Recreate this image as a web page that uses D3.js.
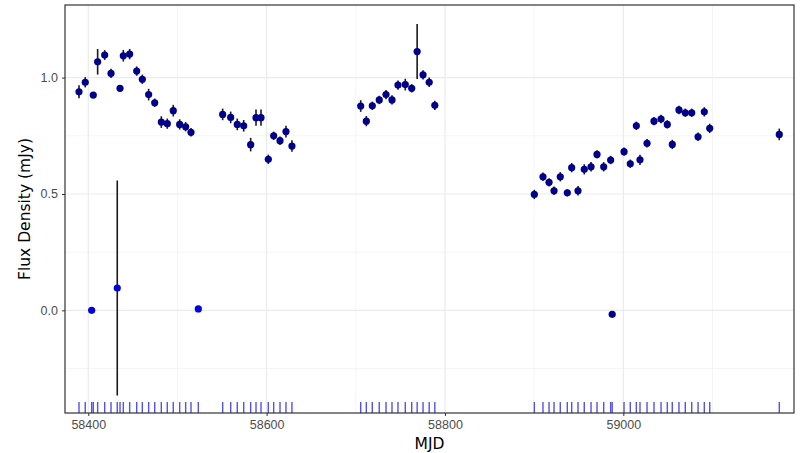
<!DOCTYPE html>
<html>
<head>
<meta charset="utf-8">
<script src="https://cdn.jsdelivr.net/npm/d3@7"></script>
<style>
  body { margin: 0; background: #fff; }
  svg { display: block; font-family: "DejaVu Sans", sans-serif; }
</style>
</head>
<body>
<svg></svg>
<script>
// detections
const mjd = [58389.6, 58396.6, 58405.6, 58410.5, 58418.4, 58425.5, 58435.6, 58439.3, 58446.4, 58454.3,
  58460.6, 58467.7, 58474.5, 58481.9, 58488.6, 58495.3, 58502.5, 58509.2, 58515.2,
  58550.7, 58559.7, 58567.1, 58574.3, 58582.1, 58588.1, 58593.7, 58601.9, 58607.9, 58615.0, 58621.7, 58628.4,
  58705.5, 58711.8, 58718.5, 58726.3, 58733.9, 58740.6, 58747.3, 58755.5, 58762.7, 58768.8, 58775.4, 58782.3, 58788.6,
  58900.2, 58909.9, 58916.7, 58922.3, 58929.3, 58937.2, 58942.1, 58949.2, 58956.2, 58963.8, 58970.5, 58978.0,
  58985.8, 59000.8, 59007.8, 59014.6, 59018.7, 59026.6, 59034.4, 59042.3, 59049.3, 59054.9, 59062.4, 59069.5,
  59076.7, 59083.8, 59090.8, 59096.9, 59174.9];
const flux = [0.939, 0.980, 0.925, 1.068, 1.097, 1.018, 0.954, 1.094, 1.101, 1.028,
  0.993, 0.927, 0.892, 0.809, 0.802, 0.858, 0.799, 0.789, 0.765,
  0.842, 0.829, 0.799, 0.793, 0.712, 0.828, 0.828, 0.649, 0.750, 0.729, 0.768, 0.706,
  0.878, 0.813, 0.879, 0.904, 0.927, 0.904, 0.968, 0.970, 0.954, 1.112, 1.012, 0.980, 0.881,
  0.498, 0.574, 0.550, 0.514, 0.574, 0.505, 0.613, 0.514, 0.606, 0.617, 0.670, 0.617,
  0.646, 0.682, 0.630, 0.793, 0.647, 0.718, 0.813, 0.822, 0.799, 0.713, 0.861, 0.849,
  0.849, 0.746, 0.853, 0.782, 0.756];
const fluxErr = [0.028, 0.022, 0.008, 0.055, 0.021, 0.020, 0.008, 0.025, 0.022, 0.020,
  0.020, 0.025, 0.018, 0.025, 0.022, 0.025, 0.022, 0.020, 0.018,
  0.025, 0.025, 0.025, 0.025, 0.029, 0.035, 0.035, 0.020, 0.018, 0.018, 0.025, 0.025,
  0.025, 0.022, 0.018, 0.018, 0.020, 0.020, 0.020, 0.025, 0.018, 0.118, 0.020, 0.020, 0.020,
  0.020, 0.018, 0.018, 0.018, 0.020, 0.015, 0.020, 0.020, 0.022, 0.020, 0.018, 0.020,
  0.018, 0.018, 0.018, 0.018, 0.022, 0.018, 0.018, 0.018, 0.018, 0.020, 0.018, 0.018,
  0.018, 0.018, 0.020, 0.020, 0.025];

// non-detections / outliers
const lowMjd = [58403.8, 58432.5, 58523.4, 58987.5];
const lowFlux = [0.000, 0.096, 0.006, -0.017];
const lowErr = [0.004, 0.462, 0.004, 0.004];
const lowColor = ['#0000e0', '#0000e0', '#0000e0', '#00008b'];

const xTicks = [58400, 58600, 58800, 59000];
const xMinor = [58500, 58700, 58900, 59100];
const yTicks = [0.0, 0.5, 1.0];
const yMinor = [-0.25, 0.25, 0.75];

const [svgWidth, svgHeight] = [802, 453];
const margin = { top: 5, right: 8, bottom: 40, left: 65 };
const w = svgWidth - margin.left - margin.right;
const h = svgHeight - margin.top - margin.bottom;

const svg = d3.select('svg')
  .attr('width', svgWidth)
  .attr('height', svgHeight);
const g = svg.append('g')
  .attr('transform', `translate(${margin.left}, ${margin.top})`);

const x = d3.scaleLinear().domain([58373.9, 59191.4]).range([0, w]);
const y = d3.scaleLinear().domain([-0.441, 1.312]).range([h, 0]);

// grid
g.selectAll('.vminor').data(xMinor).enter().append('line')
  .attr('x1', d => x(d)).attr('x2', d => x(d)).attr('y1', 0).attr('y2', h)
  .attr('stroke', '#f2f2f2').attr('stroke-width', 0.8);
g.selectAll('.hminor').data(yMinor).enter().append('line')
  .attr('y1', d => y(d)).attr('y2', d => y(d)).attr('x1', 0).attr('x2', w)
  .attr('stroke', '#f2f2f2').attr('stroke-width', 0.8);
g.selectAll('.vmajor').data(xTicks).enter().append('line')
  .attr('x1', d => x(d)).attr('x2', d => x(d)).attr('y1', 0).attr('y2', h)
  .attr('stroke', '#ebebeb').attr('stroke-width', 1.2);
g.selectAll('.hmajor').data(yTicks).enter().append('line')
  .attr('y1', d => y(d)).attr('y2', d => y(d)).attr('x1', 0).attr('x2', w)
  .attr('stroke', '#ebebeb').attr('stroke-width', 1.2);

// rug
const allMjd = mjd.concat(lowMjd);
g.selectAll('.rug').data(allMjd).enter().append('line')
  .attr('x1', d => x(d)).attr('x2', d => x(d))
  .attr('y1', h).attr('y2', h - 11)
  .attr('stroke', '#3333ee').attr('stroke-width', 1.4).attr('opacity', 0.85);

// error bars
const pts = mjd.map((d, i) => ({ mjd: d, flux: flux[i], err: fluxErr[i], color: '#00008b' }))
  .concat(lowMjd.map((d, i) => ({ mjd: d, flux: lowFlux[i], err: lowErr[i], color: lowColor[i] })));

g.selectAll('.err').data(pts).enter().append('line')
  .attr('x1', d => x(d.mjd)).attr('x2', d => x(d.mjd))
  .attr('y1', d => y(d.flux - d.err)).attr('y2', d => y(d.flux + d.err))
  .attr('stroke', '#1a1a1a').attr('stroke-width', 1.6);

g.selectAll('.pt').data(pts).enter().append('circle')
  .attr('cx', d => x(d.mjd)).attr('cy', d => y(d.flux))
  .attr('r', 3.6)
  .attr('fill', d => d.color);

// axes
const xAxis = g.append('g')
  .attr('transform', `translate(0, ${h})`)
  .call(d3.axisBottom(x).tickValues(xTicks).tickFormat(d3.format('d')).tickSize(3).tickPadding(4));
const yAxis = g.append('g')
  .call(d3.axisLeft(y).tickValues(yTicks).tickFormat(d3.format('.1f')).tickSize(3).tickPadding(4));
[xAxis, yAxis].forEach(a => {
  a.select('.domain').remove();
  a.selectAll('line').attr('stroke', '#333');
  a.selectAll('text').attr('fill', '#4d4d4d').style('font-size', '12.5px');
});

g.append('rect')
  .attr('width', w).attr('height', h)
  .attr('fill', 'none').attr('stroke', '#333').attr('stroke-width', 1.2);

svg.append('text')
  .attr('x', margin.left + w / 2).attr('y', 449)
  .attr('text-anchor', 'middle')
  .style('font-size', '15.5px')
  .text('MJD');
svg.append('text')
  .attr('transform', `translate(30, ${margin.top + h / 2}) rotate(-90)`)
  .attr('text-anchor', 'middle')
  .style('font-size', '15.5px')
  .text('Flux Density (mJy)');
</script>
</body>
</html>
